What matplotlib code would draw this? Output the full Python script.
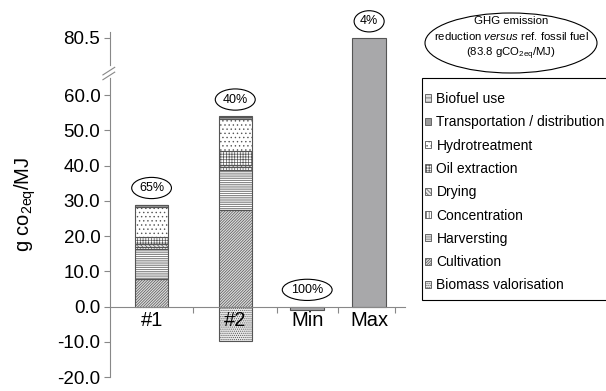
import numpy as np
import matplotlib
matplotlib.use("Agg")
import matplotlib.pyplot as plt
from matplotlib.patches import Patch, Ellipse, Rectangle

plt.rcParams['font.family'] = ['Liberation Sans', 'DejaVu Sans']
plt.rcParams['mathtext.fontset'] = 'custom'
plt.rcParams['mathtext.rm'] = 'Liberation Sans'
plt.rcParams['mathtext.it'] = 'Liberation Sans:italic'
plt.rcParams['hatch.linewidth'] = 0.5

# data
categories = ['#1', '#2', 'Min', 'Max']
stages = ['Biomass valorisation', 'Cultivation', 'Harversting', 'Concentration',
          'Drying', 'Oil extraction', 'Hydrotreatment',
          'Transportation / distribution', 'Biofuel use']
vals_1 = [0.0, 7.9, 8.3, 0.8, 0.6, 2.1, 8.5, 0.6, 0.1]
vals_2 = [-9.9, 27.5, 11.3, 0.8, 0.5, 3.9, 9.2, 0.6, 0.2]
min_val = -0.9
max_val = 80.5
reduction = ['65%', '40%', '100%', '4%']
y_ticks = [-20, -10, 0, 10, 20, 30, 40, 50, 60, 80.5]

# styles for each stage (face, hatch)
styles = {
    'Biomass valorisation': ('#e8e8e8', '.' * 8),
    'Cultivation': ('#dcdcdc', '/' * 12),
    'Harversting': ('#ffffff', '-' * 9),
    'Concentration': ('#ffffff', '|' * 6),
    'Drying': ('#e8e8e8', '\\' * 8),
    'Oil extraction': ('#ffffff', '+' * 6),
    'Hydrotreatment': ('#ffffff', '.' * 4),
    'Transportation / distribution': ('#9a9a9a', ''),
    'Biofuel use': ('#dddddd', '-' * 4),
}

# broken axis above 60
K = 0.79
def fwd(y):
    y = np.asarray(y, dtype=float)
    return np.where(y > 60, 60 + (y - 60) * K, y)

def inv(y):
    y = np.asarray(y, dtype=float)
    return np.where(y > 60, 60 + (y - 60) / K, y)

x_pos = [0.0, 1.0, 1.86, 2.6]
bounds = [0.5, 1.5, 2.23, 2.91]
w = 0.4
edge = '#555555'

fig = plt.figure(figsize=(6.06, 3.91), dpi=100)
ax = fig.add_axes([0.1815, 0.0358, 0.487, 0.882])
ax.set_yscale('function', functions=(fwd, inv))

for xi, vals in [(x_pos[0], vals_1), (x_pos[1], vals_2)]:
    bottom = 0.0
    for name, v in zip(stages, vals):
        fc, h = styles[name]
        if v < 0:
            ax.bar(xi, v, w, bottom=0, color=fc, hatch=h, edgecolor=edge, linewidth=0.8)
            continue
        if v == 0:
            continue
        ax.bar(xi, v, w, bottom=bottom, color=fc, hatch=h, edgecolor=edge, linewidth=0.8)
        bottom += v

ax.bar(x_pos[2], min_val, w, color='#a8a8aa', edgecolor=edge, linewidth=0.8)
ax.bar(x_pos[3], max_val, w, color='#a8a8aa', edgecolor=edge, linewidth=0.8)

tops = [sum(v for v in vals_1 if v > 0), sum(v for v in vals_2 if v > 0), 0, max_val]
for xi, t, lab in zip(x_pos, tops, reduction):
    ax.annotate(lab, (xi, t), xytext=(0, 12), textcoords='offset points',
                ha='center', va='center', fontsize=9,
                bbox=dict(boxstyle='ellipse,pad=0.12', fc='white', ec='black', lw=0.8))

ax.set_xlim(-0.497, 3.03)
ax.set_ylim(-20, 82.6)
ax.set_yticks(y_ticks)
ax.set_yticklabels(['%.1f' % t for t in y_ticks])
ax.tick_params(axis='y', direction='out', length=4, color='#888888', labelsize=13.5, pad=3)

ax.set_xticks(bounds)
ax.set_xticklabels([])
ax.set_xticks(x_pos, minor=True)
ax.set_xticklabels(categories, minor=True)
ax.tick_params(axis='x', which='major', direction='out', length=4, color='#888888')
ax.tick_params(axis='x', which='minor', length=0, labelsize=14.5, pad=3)

for s in ['top', 'right']:
    ax.spines[s].set_visible(False)
ax.spines['bottom'].set_position(('data', 0))
ax.spines['bottom'].set_color('#888888')
ax.spines['left'].set_color('#888888')

# break marks on the y axis
ax.plot([0, 0], [0.874, 0.90], transform=ax.transAxes, color='white', lw=2, clip_on=False, zorder=5)
for yb in [0.862, 0.876]:
    ax.plot([-0.024, 0.016], [yb, yb + 0.022], transform=ax.transAxes,
            color='#888888', lw=0.8, clip_on=False, zorder=6)

ax.set_ylabel('g co$_{\\mathrm{2eq}}$/MJ', fontsize=14.5)
ax.yaxis.set_label_coords(-0.245, 0.5)

fig.patches.append(Ellipse((511 / 606, 1 - 43 / 391), 172 / 606, 60 / 391,
                           transform=fig.transFigure, fc='white', ec='black', lw=0.8))
fig.text(511 / 606, 1 - 39 / 391,
         'GHG emission\nreduction $\\mathit{versus}$ ref. fossil fuel\n(83.8 gCO$_{\\mathrm{2eq}}$/MJ)',
         ha='center', va='center', fontsize=8.2, linespacing=1.35)

# legend box, running off the right edge as in the original
fig.patches.append(Rectangle((422 / 606, 1 - 300 / 391), 200 / 606, 222 / 391,
                             transform=fig.transFigure, fc='white', ec='black', lw=0.8))
handles = [Patch(facecolor=styles[n][0], hatch=styles[n][1], edgecolor=edge, linewidth=0.6)
           for n in stages][::-1]
leg = fig.legend(handles, stages[::-1], loc='upper left',
                 bbox_to_anchor=(425 / 606, 1 - 92 / 391), fontsize=10,
                 handlelength=0.42, handleheight=0.42, handletextpad=0.4,
                 labelspacing=0.67, borderpad=0, borderaxespad=0, frameon=False)

fig.savefig('out.png', dpi=100)
